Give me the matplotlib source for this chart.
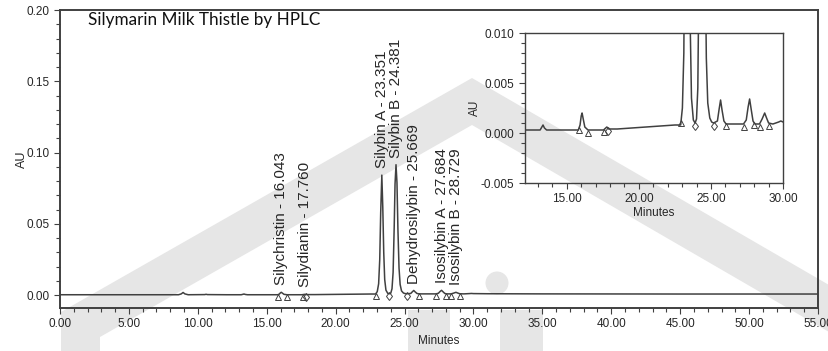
import matplotlib
matplotlib.use("Agg")
import matplotlib.pyplot as plt
import matplotlib.patches as mpatches
import matplotlib.transforms as mtransforms
from matplotlib.ticker import MultipleLocator, FormatStrFormatter
import numpy as np

# Chromatogram trace (minutes, AU)
time_min = [0.0, 4.0, 8.6, 8.8, 8.93, 9.06, 9.3, 10.5, 10.6, 10.7,
            12.1, 13.15, 13.27, 13.35, 13.45, 13.6, 15.0, 15.8, 15.92, 16.0,
            16.06, 16.14, 16.25, 16.47, 17.55, 17.7, 17.78, 17.9, 18.5, 19.5,
            20.5, 21.5, 22.5, 22.9, 23.02, 23.12, 23.2, 23.27, 23.351, 23.42,
            23.49, 23.56, 23.65, 23.78, 23.9, 24.0, 24.09, 24.17, 24.25, 24.31,
            24.381, 24.45, 24.52, 24.6, 24.68, 24.78, 24.92, 25.05, 25.18, 25.45,
            25.57, 25.669, 25.77, 25.9, 26.05, 26.6, 27.26, 27.45, 27.58, 27.684,
            27.8, 27.92, 28.05, 28.37, 28.55, 28.729, 28.86, 29.0, 29.3, 29.7,
            29.85, 30.0, 31.0, 35.0, 45.0, 55.0]
au = [0.0003, 0.0003, 0.0003, 0.0009, 0.0019, 0.0009, 0.0003, 0.0004, 0.0006, 0.0004,
      0.0003, 0.0003, 0.0006, 0.0008, 0.0005, 0.0003, 0.0003, 0.0003, 0.0008, 0.0017,
      0.0020, 0.0014, 0.0006, 0.0003, 0.0003, 0.0005, 0.0006, 0.0004, 0.0004, 0.0005,
      0.0006, 0.0007, 0.0008, 0.0008, 0.0025, 0.0080, 0.025, 0.058, 0.0842, 0.062,
      0.030, 0.011, 0.0035, 0.0013, 0.0010, 0.0014, 0.0045, 0.016, 0.048, 0.078,
      0.0915, 0.079, 0.046, 0.019, 0.0075, 0.0030, 0.0015, 0.0011, 0.0010, 0.0012,
      0.0024, 0.0033, 0.0023, 0.0012, 0.0009, 0.0009, 0.0009, 0.0013, 0.0026, 0.0034,
      0.0023, 0.0012, 0.0009, 0.0009, 0.0014, 0.0020, 0.0015, 0.0010, 0.0009, 0.0011,
      0.0012, 0.0011, 0.0010, 0.0009, 0.0008, 0.0008]

# Named peaks
peak_names = ["Silychristin", "Silydianin", "Silybin A", "Silybin B",
              "Dehydrosilybin", "Isosilybin A", "Isosilybin B"]
peak_rt = [16.043, 17.760, 23.351, 24.381, 25.669, 27.684, 28.729]

# Integration events (peak start / end markers)
event_times = [15.85, 16.47, 17.60, 17.88, 22.93, 23.90, 25.18, 26.04, 27.26, 28.00, 28.37, 29.00]
event_kinds = ["^", "^", "^", "d", "^", "d", "d", "^", "^", "^", "^", "^"]

W, H = 829, 351
LINE = "#404040"
TEXT = "#262626"


def px(x, y):
    """Pixel position (from top-left) to figure fraction."""
    return (x / W, 1 - y / H)


def draw_watermark(fig):
    # light grey logo behind everything
    grey = "#e6e6e6"
    kw = dict(transform=fig.transFigure, facecolor=grey, edgecolor="none", zorder=-10)
    chevron = [px(61, 351), px(61, 312), px(472, 78), px(829, 285),
               px(829, 332), px(472, 125), px(100, 337), px(100, 351)]
    fig.patches.append(mpatches.Polygon(chevron, closed=True, **kw))
    for x0, x1 in [(408, 450), (500, 543)]:
        fig.patches.append(mpatches.Rectangle(px(x0, 351), (x1 - x0) / W, 41 / H, **kw))
    fig.patches.append(mpatches.Ellipse(px(497, 283), 23 / W, 23 / H, **kw))


def style_axes(ax, lw):
    ax.set_facecolor("none")
    for s in ax.spines.values():
        s.set_color(LINE)
        s.set_linewidth(lw)
    ax.tick_params(which="both", direction="out", colors=LINE, labelcolor=TEXT,
                   labelsize=8.5, width=0.8)
    ax.tick_params(which="major", length=4)
    ax.tick_params(which="minor", length=3)


def add_events(ax, fig, ms, clip):
    shifted = mtransforms.offset_copy(ax.transData, fig=fig, x=0, y=-2.5, units="dots")
    base = np.interp(event_times, time_min, au)
    for t, y, k in zip(event_times, base, event_kinds):
        ax.plot(t, y, marker=k, ms=ms, mfc="none", mec=LINE, mew=0.7,
                transform=shifted, clip_on=clip, zorder=3)


def main():
    plt.rcParams["font.family"] = ["Liberation Sans", "DejaVu Sans"]
    fig = plt.figure(figsize=(W / 100, H / 100), dpi=100)
    fig.patch.set_facecolor("white")
    draw_watermark(fig)

    # main chromatogram
    ax = fig.add_axes([60 / W, 1 - 308 / H, 758 / W, 298 / H])
    ax.plot(time_min, au, color=LINE, lw=1.1, zorder=2)
    ax.set_xlim(0, 55)
    ax.set_ylim(-0.009, 0.2)
    ax.xaxis.set_major_locator(MultipleLocator(5))
    ax.xaxis.set_minor_locator(MultipleLocator(1))
    ax.yaxis.set_major_locator(MultipleLocator(0.05))
    ax.yaxis.set_minor_locator(MultipleLocator(0.01))
    ax.xaxis.set_major_formatter(FormatStrFormatter("%.2f"))
    ax.yaxis.set_major_formatter(FormatStrFormatter("%.2f"))
    style_axes(ax, 1.4)
    ax.set_xlabel("Minutes", fontsize=8.5, color=TEXT, va="center")
    ax.xaxis.set_label_coords(0.5, -0.11)
    ax.set_ylabel("AU", fontsize=9, color=TEXT, va="center")
    ax.yaxis.set_label_coords(-0.05, 0.5)
    add_events(ax, fig, 4.5, False)

    tops = np.interp(peak_rt, time_min, au)
    for name, rt, top in zip(peak_names, peak_rt, tops):
        ax.annotate(f"{name} - {rt:.3f}", (rt, top), xytext=(0, 5), textcoords="offset points",
                    rotation=90, ha="center", va="bottom", fontsize=11, color=TEXT)

    fig.text(88 / W, 1 - 20 / H, "Silymarin Milk Thistle by HPLC", fontsize=12.3,
             family="Lato", color="#111111", va="center", ha="left")

    # zoomed inset
    axi = fig.add_axes([525 / W, 1 - 183 / H, 258 / W, 150 / H])
    axi.plot(time_min, au, color=LINE, lw=1.1, zorder=2)
    axi.set_xlim(12.1, 30)
    axi.set_ylim(-0.005, 0.010)
    axi.xaxis.set_major_locator(MultipleLocator(5))
    axi.xaxis.set_minor_locator(MultipleLocator(1))
    axi.yaxis.set_major_locator(MultipleLocator(0.005))
    axi.yaxis.set_minor_locator(MultipleLocator(0.001))
    axi.xaxis.set_major_formatter(FormatStrFormatter("%.2f"))
    axi.yaxis.set_major_formatter(FormatStrFormatter("%.3f"))
    style_axes(axi, 1.0)
    axi.set_xlabel("Minutes", fontsize=8.5, color=TEXT, va="center")
    axi.xaxis.set_label_coords(0.5, -0.2)
    axi.set_ylabel("AU", fontsize=8.5, color=TEXT, va="center")
    axi.yaxis.set_label_coords(-0.194, 0.5)
    add_events(axi, fig, 4.5, True)

    fig.savefig("out.png", dpi=100, facecolor="white")


if __name__ == "__main__":
    main()
